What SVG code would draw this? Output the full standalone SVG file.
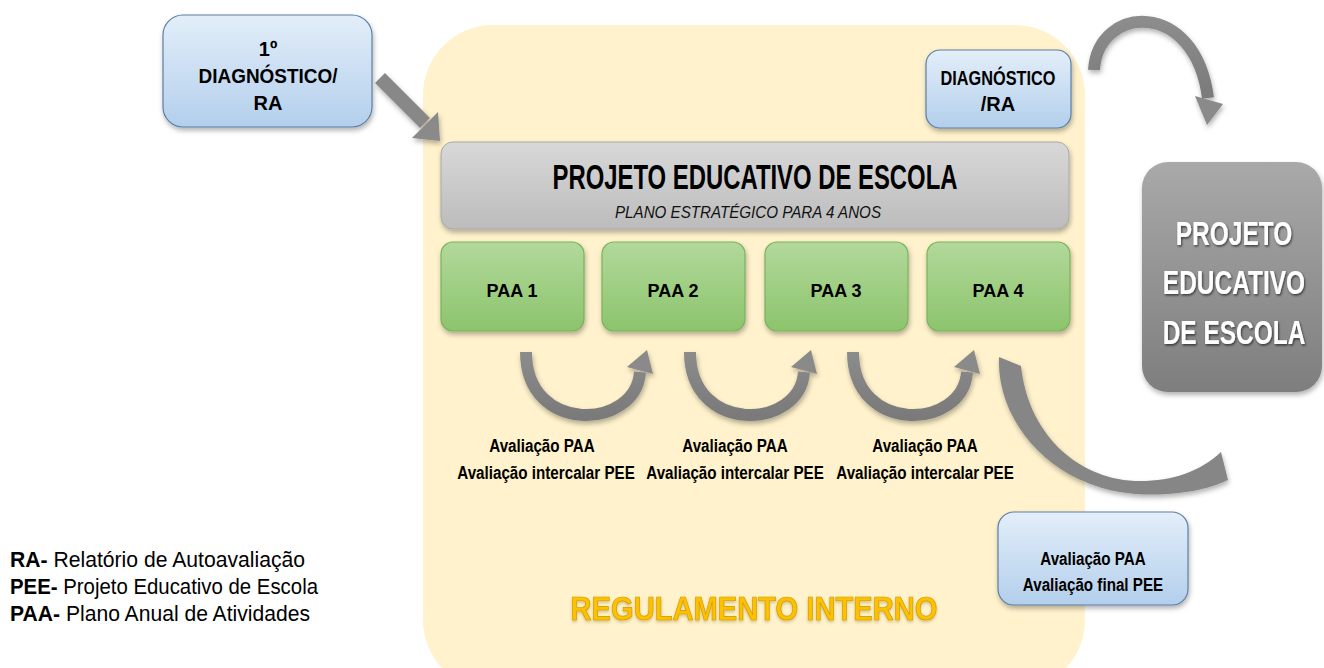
<svg xmlns="http://www.w3.org/2000/svg" width="1324" height="668" viewBox="0 0 1324 668">
<style>
text{font-family:'Liberation Sans',Arial,sans-serif;}
.b{font-weight:bold;fill:#000;}
.blue{fill:url(#gBlue);stroke:#5b7fa6;stroke-width:1.2;}
.green{fill:url(#gGreen);stroke:#79b35a;stroke-width:1.2;}
.arr{fill:none;stroke:url(#gArr);stroke-width:12;stroke-linecap:butt;}
.head{fill:#8a8a8a;}
.w{font-weight:bold;fill:#fff;font-size:34px;}
.av{font-weight:bold;fill:#000;font-size:19px;}
</style>
<defs>
<linearGradient id="gBlue" x1="0" y1="0" x2="0" y2="1"><stop offset="0" stop-color="#e3eef9"/><stop offset="1" stop-color="#b3cfec"/></linearGradient>
<linearGradient id="gGreen" x1="0" y1="0" x2="0" y2="1"><stop offset="0" stop-color="#b2d99b"/><stop offset="1" stop-color="#8cc46c"/></linearGradient>
<linearGradient id="gGrayL" x1="0" y1="0" x2="0" y2="1"><stop offset="0" stop-color="#d8d8d8"/><stop offset="1" stop-color="#bcbcbc"/></linearGradient>
<linearGradient id="gGrayD" x1="0" y1="0" x2="0" y2="1"><stop offset="0" stop-color="#a9a9a9"/><stop offset="1" stop-color="#7e7e7e"/></linearGradient>
<linearGradient id="gArr" x1="0" y1="0" x2="0" y2="1"><stop offset="0" stop-color="#8c8c8c"/><stop offset="1" stop-color="#7a7a7a"/></linearGradient>
<filter id="sh" x="-10%" y="-10%" width="130%" height="140%"><feDropShadow dx="1" dy="3" stdDeviation="2.5" flood-color="#000" flood-opacity="0.3"/></filter>
<filter id="tsh" x="-20%" y="-30%" width="140%" height="170%"><feDropShadow dx="1" dy="1.5" stdDeviation="1" flood-color="#000" flood-opacity="0.6"/></filter>
<filter id="gsh" x="-5%" y="-20%" width="110%" height="150%"><feDropShadow dx="0" dy="2" stdDeviation="1.5" flood-color="#8a6a00" flood-opacity="0.35"/></filter>
</defs>

<g id="regulamento">
<rect x="423" y="25" width="662" height="665" rx="70" fill="#fff2cc"/>
<text x="754" y="620" text-anchor="middle" font-size="34" font-weight="bold" fill="#ffc000" stroke="#c99a00" stroke-width="0.7" filter="url(#gsh)" textLength="367" lengthAdjust="spacingAndGlyphs">REGULAMENTO INTERNO</text>
</g>

<g id="connectors">
<g filter="url(#sh)">
<line x1="380" y1="78" x2="425" y2="123" stroke="#888" stroke-width="14"/>
<polygon points="412,138 438,112 440,141" class="head"/>
</g>
<g filter="url(#sh)">
<path d="M 1094 70 C 1098 5, 1195 -2, 1208 98" class="arr"/>
<polygon points="1195,96 1223,104 1207,125" class="head"/>
</g>
<g id="u1" filter="url(#sh)">
<path d="M 526 352 C 526 435, 636 430, 640 372" class="arr"/>
<polygon points="627,367 653,374 647,350" class="head"/>
</g>
<g id="u2" filter="url(#sh)" transform="translate(164,0)">
<path d="M 526 352 C 526 435, 636 430, 640 372" class="arr"/>
<polygon points="627,367 653,374 647,350" class="head"/>
</g>
<g id="u3" filter="url(#sh)" transform="translate(327,0)">
<path d="M 526 352 C 526 435, 636 430, 640 372" class="arr"/>
<polygon points="627,367 653,374 647,350" class="head"/>
</g>
<path filter="url(#sh)" fill="#868686" d="M 999 357 C 996 420, 1050 487, 1135 494 C 1178 497, 1212 488, 1228 480 L 1221 452 C 1200 472, 1170 482, 1135 481 C 1075 478, 1028 432, 1021 366 Z"/>
</g>

<g id="diag1">
<rect x="163" y="15" width="209" height="112" rx="20" class="blue" filter="url(#sh)"/>
<text x="268" y="56" text-anchor="middle" font-size="20" class="b">1º</text>
<text x="268" y="83" text-anchor="middle" font-size="20" class="b" textLength="139" lengthAdjust="spacingAndGlyphs">DIAGNÓSTICO/</text>
<text x="268" y="110" text-anchor="middle" font-size="20" class="b">RA</text>
</g>

<g id="diag2">
<rect x="926" y="50" width="145" height="78" rx="14" class="blue" filter="url(#sh)"/>
<text x="998" y="85" text-anchor="middle" font-size="20" class="b" textLength="115" lengthAdjust="spacingAndGlyphs">DIAGNÓSTICO</text>
<text x="998" y="111" text-anchor="middle" font-size="20" class="b">/RA</text>
</g>

<g id="pee">
<rect x="441" y="142" width="628" height="87" rx="12" fill="url(#gGrayL)" stroke="#a8a8a8" stroke-width="1" filter="url(#sh)"/>
<text x="755" y="189" text-anchor="middle" font-size="35" class="b" textLength="405" lengthAdjust="spacingAndGlyphs">PROJETO EDUCATIVO DE ESCOLA</text>
<text x="748" y="218" text-anchor="middle" font-size="16" font-style="italic" fill="#111" textLength="266" lengthAdjust="spacingAndGlyphs">PLANO ESTRATÉGICO PARA 4 ANOS</text>
</g>

<g id="paa1"><rect x="441" y="242" width="143" height="89" rx="12" class="green" filter="url(#sh)"/><text x="512" y="297" text-anchor="middle" font-size="18" class="b">PAA 1</text></g>
<g id="paa2"><rect x="602" y="242" width="143" height="89" rx="12" class="green" filter="url(#sh)"/><text x="673" y="297" text-anchor="middle" font-size="18" class="b">PAA 2</text></g>
<g id="paa3"><rect x="765" y="242" width="143" height="89" rx="12" class="green" filter="url(#sh)"/><text x="836" y="297" text-anchor="middle" font-size="18" class="b">PAA 3</text></g>
<g id="paa4"><rect x="927" y="242" width="143" height="89" rx="12" class="green" filter="url(#sh)"/><text x="998" y="297" text-anchor="middle" font-size="18" class="b">PAA 4</text></g>

<g id="aval1">
<text transform="translate(542,452) scale(0.8,1)" text-anchor="middle" class="av">Avaliação PAA</text>
<text transform="translate(546,479) scale(0.8,1)" text-anchor="middle" class="av">Avaliação intercalar PEE</text>
</g>
<g id="aval2">
<text transform="translate(735,452) scale(0.8,1)" text-anchor="middle" class="av">Avaliação PAA</text>
<text transform="translate(735,479) scale(0.8,1)" text-anchor="middle" class="av">Avaliação intercalar PEE</text>
</g>
<g id="aval3">
<text transform="translate(925,452) scale(0.8,1)" text-anchor="middle" class="av">Avaliação PAA</text>
<text transform="translate(925,479) scale(0.8,1)" text-anchor="middle" class="av">Avaliação intercalar PEE</text>
</g>

<g id="avalFinal">
<rect x="998" y="512" width="190" height="93" rx="16" class="blue" filter="url(#sh)"/>
<text transform="translate(1093,565) scale(0.8,1)" text-anchor="middle" class="av">Avaliação PAA</text>
<text transform="translate(1093,591) scale(0.8,1)" text-anchor="middle" class="av">Avaliação final PEE</text>
</g>

<g id="peeRight">
<rect x="1142" y="162" width="180" height="230" rx="26" fill="url(#gGrayD)" filter="url(#sh)"/>
<g filter="url(#tsh)">
<text transform="translate(1234,245) scale(0.72,1)" text-anchor="middle" class="w">PROJETO</text>
<text transform="translate(1234,294) scale(0.72,1)" text-anchor="middle" class="w">EDUCATIVO</text>
<text transform="translate(1234,344) scale(0.72,1)" text-anchor="middle" class="w">DE ESCOLA</text>
</g>
</g>

<g id="legend" font-size="22" fill="#000">
<text x="10" y="567" textLength="295" lengthAdjust="spacingAndGlyphs"><tspan font-weight="bold">RA-</tspan> Relatório de Autoavaliação</text>
<text x="10" y="594" textLength="308" lengthAdjust="spacingAndGlyphs"><tspan font-weight="bold">PEE-</tspan> Projeto Educativo de Escola</text>
<text x="10" y="621" textLength="300" lengthAdjust="spacingAndGlyphs"><tspan font-weight="bold">PAA-</tspan> Plano Anual de Atividades</text>
</g>
</svg>
